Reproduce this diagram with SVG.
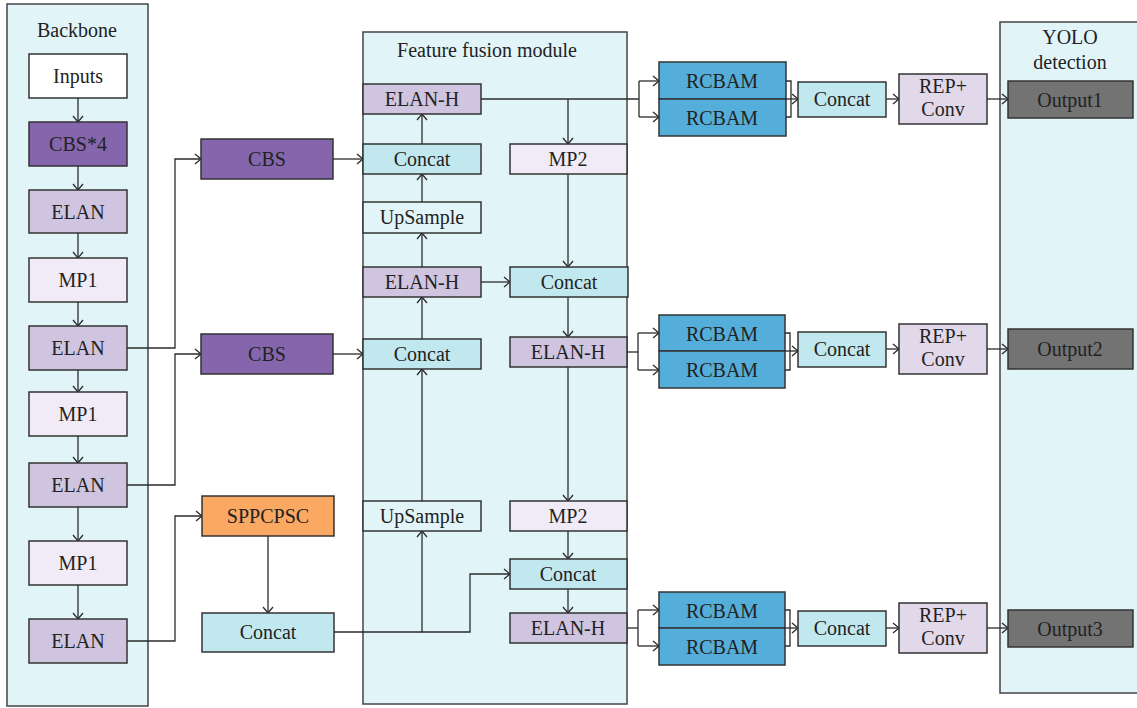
<svg xmlns="http://www.w3.org/2000/svg" width="1137" height="708" viewBox="0 0 1137 708" font-family="'Liberation Serif', 'Times New Roman', serif">
<defs>
<marker id="arr" markerUnits="userSpaceOnUse" markerWidth="12" markerHeight="12" viewBox="-8 -6 10 12" refX="0" refY="0" orient="auto">
<path d="M-6,-5 L0,0 L-6,5" fill="none" stroke="#2b2b2b" stroke-width="1.3"/>
</marker>
</defs>
<style>
text{font-family:"Liberation Serif","Times New Roman",serif;font-size:20px;fill:#222;text-anchor:middle}
.panel{fill:#E1F5F9;stroke:#444;stroke-width:1.5}
.b{stroke:#333;stroke-width:1.5}
.white{fill:#ffffff}
.cbs{fill:#8566AC}
.elan{fill:#D0C5E0}
.mp{fill:#F0EBF6}
.cc{fill:#C2E8EF}
.up{fill:#E1F5F9}
.rc{fill:#55AEDA}
.rep{fill:#E1D8EA}
.out{fill:#737373}
.spp{fill:#FAA862}
.c path{fill:none;stroke:#2b2b2b;stroke-width:1.3}
.c .a{marker-end:url(#arr)}
</style>

<g id="panels">
<rect class="panel" x="7" y="4" width="141" height="702"/>
<rect class="panel" x="363" y="32" width="264" height="672"/>
<rect class="panel" x="1000" y="22" width="145" height="671"/>
<text x="77" y="37">Backbone</text>
<text x="487" y="57">Feature fusion module</text>
<text x="1070" y="44">YOLO</text>
<text x="1070" y="69">detection</text>
</g>

<g id="connectors" class="c">
<path class="a" d="M78,98 V122"/>
<path class="a" d="M78,166 V190"/>
<path class="a" d="M78,233 V258"/>
<path class="a" d="M78,302 V326"/>
<path class="a" d="M78,370 V392"/>
<path class="a" d="M78,436 V463"/>
<path class="a" d="M78,507 V541"/>
<path class="a" d="M78,585 V619"/>
<path class="a" d="M127,348 H175 V159 H201"/>
<path class="a" d="M127,485 H175 V354 H201"/>
<path class="a" d="M127,641 H175 V516 H202"/>
<path class="a" d="M268,536 V613"/>
<path class="a" d="M333,159 H363"/>
<path class="a" d="M333,354 H363"/>
<path class="a" d="M334,632 H422 V531"/>
<path class="a" d="M422,632 H470 V574 H510"/>
<path class="a" d="M422,144 V114"/>
<path class="a" d="M422,202 V174"/>
<path class="a" d="M422,267 V233"/>
<path class="a" d="M422,339 V297"/>
<path class="a" d="M422,501 V369"/>
<path d="M481,99 H639"/>
<path class="a" d="M568,99 V144"/>
<path class="a" d="M568,174 V267"/>
<path class="a" d="M481,282 H510"/>
<path class="a" d="M568,297 V337"/>
<path class="a" d="M568,367 V501"/>
<path class="a" d="M568,531 V559"/>
<path class="a" d="M568,589 V613"/>
<path d="M639,81 V117"/>
<path class="a" d="M639,81 H659"/>
<path class="a" d="M639,117 H659"/>
<path d="M786,81 H791 V117 H786"/>
<path class="a" d="M786,99 H798"/>
<path class="a" d="M886,99 H899"/>
<path class="a" d="M987,99 H1008"/>
<path d="M627,352 H638"/>
<path d="M638,333 V370"/>
<path class="a" d="M638,333 H659"/>
<path class="a" d="M638,370 H659"/>
<path d="M785,333 H790 V370 H785"/>
<path class="a" d="M785,351 H798"/>
<path class="a" d="M886,349 H899"/>
<path class="a" d="M987,349 H1008"/>
<path d="M627,628 H638"/>
<path d="M638,610 V646"/>
<path class="a" d="M638,610 H659"/>
<path class="a" d="M638,646 H659"/>
<path d="M785,610 H790 V646 H785"/>
<path class="a" d="M785,628 H798"/>
<path class="a" d="M886,628 H899"/>
<path class="a" d="M987,628 H1008"/>
</g>

<g id="inputs"><rect class="b white" x="29" y="54" width="98" height="44"/><text x="78" y="83">Inputs</text></g>
<g id="cbs4"><rect class="b cbs" x="29" y="122" width="98" height="44"/><text x="78" y="151">CBS*4</text></g>
<g id="elan1"><rect class="b elan" x="29" y="190" width="98" height="43"/><text x="78" y="219">ELAN</text></g>
<g id="mp1a"><rect class="b mp" x="29" y="258" width="98" height="44"/><text x="78" y="287">MP1</text></g>
<g id="elan2"><rect class="b elan" x="29" y="326" width="98" height="44"/><text x="78" y="355">ELAN</text></g>
<g id="mp1b"><rect class="b mp" x="29" y="392" width="98" height="44"/><text x="78" y="421">MP1</text></g>
<g id="elan3"><rect class="b elan" x="29" y="463" width="98" height="44"/><text x="78" y="492">ELAN</text></g>
<g id="mp1c"><rect class="b mp" x="29" y="541" width="98" height="44"/><text x="78" y="570">MP1</text></g>
<g id="elan4"><rect class="b elan" x="29" y="619" width="98" height="44"/><text x="78" y="648">ELAN</text></g>

<g id="cbsA"><rect class="b cbs" x="201" y="139" width="132" height="40"/><text x="267" y="166">CBS</text></g>
<g id="cbsB"><rect class="b cbs" x="201" y="334" width="132" height="40"/><text x="267" y="361">CBS</text></g>
<g id="sppcpsc"><rect class="b spp" x="202" y="496" width="132" height="40"/><text x="268" y="523">SPPCPSC</text></g>
<g id="concatL"><rect class="b cc" x="202" y="613" width="132" height="39"/><text x="268" y="639">Concat</text></g>

<g id="elanhA"><rect class="b elan" x="363" y="84" width="118" height="30"/><text x="422" y="106">ELAN-H</text></g>
<g id="concatA"><rect class="b cc" x="363" y="144" width="118" height="30"/><text x="422" y="166">Concat</text></g>
<g id="upA"><rect class="b up" x="363" y="202" width="118" height="31"/><text x="422" y="224">UpSample</text></g>
<g id="elanhB"><rect class="b elan" x="363" y="267" width="118" height="30"/><text x="422" y="289">ELAN-H</text></g>
<g id="concatB"><rect class="b cc" x="363" y="339" width="118" height="30"/><text x="422" y="361">Concat</text></g>
<g id="upB"><rect class="b up" x="363" y="501" width="118" height="30"/><text x="422" y="523">UpSample</text></g>

<g id="mp2A"><rect class="b mp" x="510" y="144" width="117" height="30"/><text x="568" y="166">MP2</text></g>
<g id="concatC"><rect class="b cc" x="510" y="267" width="118" height="30"/><text x="569" y="289">Concat</text></g>
<g id="elanhC"><rect class="b elan" x="510" y="337" width="117" height="30"/><text x="568" y="359">ELAN-H</text></g>
<g id="mp2B"><rect class="b mp" x="510" y="501" width="117" height="30"/><text x="568" y="523">MP2</text></g>
<g id="concatD"><rect class="b cc" x="510" y="559" width="117" height="30"/><text x="568" y="581">Concat</text></g>
<g id="elanhD"><rect class="b elan" x="510" y="613" width="117" height="30"/><text x="568" y="635">ELAN-H</text></g>

<g id="rcbam1a"><rect class="b rc" x="659" y="62" width="127" height="37"/><text x="722" y="88">RCBAM</text></g>
<g id="rcbam1b"><rect class="b rc" x="659" y="99" width="127" height="37"/><text x="722" y="125">RCBAM</text></g>
<g id="concat1"><rect class="b cc" x="798" y="82" width="88" height="35"/><text x="842" y="106">Concat</text></g>
<g id="rep1"><rect class="b rep" x="899" y="74" width="88" height="50"/><text x="943" y="93">REP+</text><text x="943" y="116">Conv</text></g>
<g id="out1"><rect class="b out" x="1008" y="81" width="125" height="37"/><text x="1070" y="107">Output1</text></g>

<g id="rcbam2a"><rect class="b rc" x="659" y="315" width="126" height="36"/><text x="722" y="341">RCBAM</text></g>
<g id="rcbam2b"><rect class="b rc" x="659" y="351" width="126" height="37"/><text x="722" y="377">RCBAM</text></g>
<g id="concat2"><rect class="b cc" x="798" y="332" width="88" height="35"/><text x="842" y="356">Concat</text></g>
<g id="rep2"><rect class="b rep" x="899" y="324" width="88" height="50"/><text x="943" y="343">REP+</text><text x="943" y="366">Conv</text></g>
<g id="out2"><rect class="b out" x="1008" y="329" width="125" height="40"/><text x="1070" y="356">Output2</text></g>

<g id="rcbam3a"><rect class="b rc" x="659" y="592" width="126" height="36"/><text x="722" y="618">RCBAM</text></g>
<g id="rcbam3b"><rect class="b rc" x="659" y="628" width="126" height="37"/><text x="722" y="654">RCBAM</text></g>
<g id="concat3"><rect class="b cc" x="798" y="611" width="88" height="35"/><text x="842" y="635">Concat</text></g>
<g id="rep3"><rect class="b rep" x="899" y="603" width="88" height="50"/><text x="943" y="622">REP+</text><text x="943" y="645">Conv</text></g>
<g id="out3"><rect class="b out" x="1008" y="610" width="125" height="37"/><text x="1070" y="636">Output3</text></g>
</svg>
